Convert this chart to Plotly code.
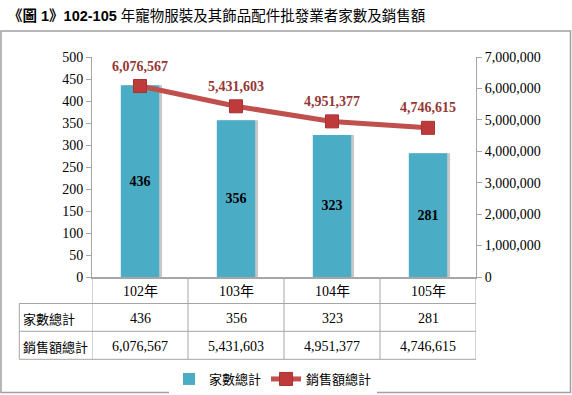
import plotly.graph_objects as go

categories = ["102年", "103年", "104年", "105年"]
counts = [436, 356, 323, 281]
sales = [6076567, 5431603, 4951377, 4746615]
row_labels = ["家數總計", "銷售額總計"]
series_names = ["家數總計", "銷售額總計"]
left_ticks = list(range(0, 501, 50))
right_ticks = list(range(0, 7000001, 1000000))
title_text = "<b>《圖 1》102-105</b> 年寵物服裝及其飾品配件批發業者家數及銷售額"

W, H = 572, 395
L, R, T, B = 92, 96, 57, 118
PW, PH = W - L - R, H - T - B

def px(x):
    return (x - L) / PW

def py(y):
    return (H - B - y) / PH

SERIF = "Liberation Serif, Times New Roman, Noto Sans CJK TC, serif"
CJK = "Noto Sans CJK TC, Liberation Sans, sans-serif"
GRID = "#A6A6A6"

fig = go.Figure()

# shadow of bars
fig.add_trace(go.Bar(
    x=categories, y=counts, width=0.4, offset=-0.2 + 0.03,
    marker=dict(color="rgba(0,0,0,0.22)", line=dict(width=0)),
    showlegend=False, hoverinfo="skip", yaxis="y",
))
fig.add_trace(go.Bar(
    x=categories, y=counts, name=series_names[0], width=0.4, offset=-0.2,
    marker=dict(color="#4BACC6", line=dict(width=0)),
    text=[str(v) for v in counts], textposition="inside",
    insidetextanchor="middle", textangle=0,
    textfont=dict(family=SERIF, size=14, color="black", weight="bold"),
    constraintext="none", yaxis="y",
))
fig.add_trace(go.Scatter(
    x=categories, y=sales, name=series_names[1], mode="lines+markers",
    line=dict(color="#C0504D", width=5),
    marker=dict(symbol="square", size=13, color="#BF3B3B",
                line=dict(color="#A83232", width=1)),
    yaxis="y2",
))

for c, v in zip(categories, sales):
    fig.add_annotation(x=c, y=v, xref="x", yref="y2", yshift=20,
                       xanchor="center", yanchor="middle",
                       text=f"<b>{v:,}</b>", showarrow=False,
                       font=dict(family=SERIF, size=14, color="#953735"))

# table
rows_y = [291.5, 318, 346]
for i, c in enumerate(categories):
    for r, txt in enumerate([c, f"{counts[i]:,}", f"{sales[i]:,}"]):
        fig.add_annotation(x=c, y=py(rows_y[r]), xref="x", yref="paper",
                           xanchor="center", yanchor="middle",
                           text=txt, showarrow=False,
                           font=dict(family=SERIF, size=14, color="black"))
for j, lab in enumerate(row_labels):
    fig.add_annotation(x=px(21), y=py(rows_y[j + 1]), xref="paper", yref="paper",
                       xanchor="left", yanchor="middle", text=lab, showarrow=False,
                       font=dict(family=CJK, size=13, color="black"))

shapes = []
for k in range(len(categories) + 1):
    shapes.append(dict(type="line", xref="x", yref="paper",
                       x0=k - 0.5, x1=k - 0.5, y0=py(277), y1=py(359.3),
                       line=dict(color=GRID, width=1)))
for yy in [303.5, 331.3, 359.3]:
    shapes.append(dict(type="line", xref="paper", yref="paper",
                       x0=px(19.3), x1=px(476), y0=py(yy), y1=py(yy),
                       line=dict(color=GRID, width=1)))
shapes.append(dict(type="line", xref="paper", yref="paper",
                   x0=px(19.3), x1=px(19.3), y0=py(303.5), y1=py(359.3),
                   line=dict(color=GRID, width=1)))
# outer border
shapes.append(dict(type="rect", xref="paper", yref="paper",
                   x0=px(1), x1=px(570.5), y0=py(392.5), y1=py(31),
                   line=dict(color="#A0A0A0", width=1.5)))

fig.update_layout(
    width=W, height=H, autosize=False,
    margin=dict(l=L, r=R, t=T, b=B, autoexpand=False),
    paper_bgcolor="white", plot_bgcolor="white",
    barmode="overlay",
    title=dict(text=title_text, xref="container", yref="container",
               x=8 / W, xanchor="left", y=1 - 16 / H, yanchor="middle",
               font=dict(family="Liberation Sans, Noto Sans CJK TC, sans-serif",
                         size=14.5, color="black")),
    xaxis=dict(type="category", range=[-0.5, 3.5], showticklabels=False,
               showline=True, linecolor=GRID, linewidth=1.5, ticks="",
               showgrid=False, zeroline=False, automargin=False),
    yaxis=dict(range=[0, 500], tickvals=left_ticks, showgrid=False,
               showline=True, linecolor=GRID, linewidth=1, ticks="outside",
               ticklen=5, tickcolor=GRID, zeroline=False, automargin=False,
               tickfont=dict(family=SERIF, size=14, color="black")),
    yaxis2=dict(range=[0, 7000000], tickvals=right_ticks, tickformat=",",
                overlaying="y", side="right", showgrid=False,
                showline=True, linecolor=GRID, linewidth=1, ticks="outside",
                ticklen=5, tickcolor=GRID, zeroline=False, automargin=False,
                tickfont=dict(family=SERIF, size=14, color="black")),
    legend=dict(orientation="h", xref="container", yref="container",
                x=273 / W, xanchor="center",
                y=1 - 379 / H, yanchor="middle",
                font=dict(family=CJK, size=13, color="black"),
                itemwidth=30, traceorder="normal"),
    showlegend=True,
    shapes=shapes,
)

fig.write_html(
    "out.html",
    config={"displayModeBar": False},
    post_script="document.body.style.margin='0';document.body.style.overflow='hidden';",
)
